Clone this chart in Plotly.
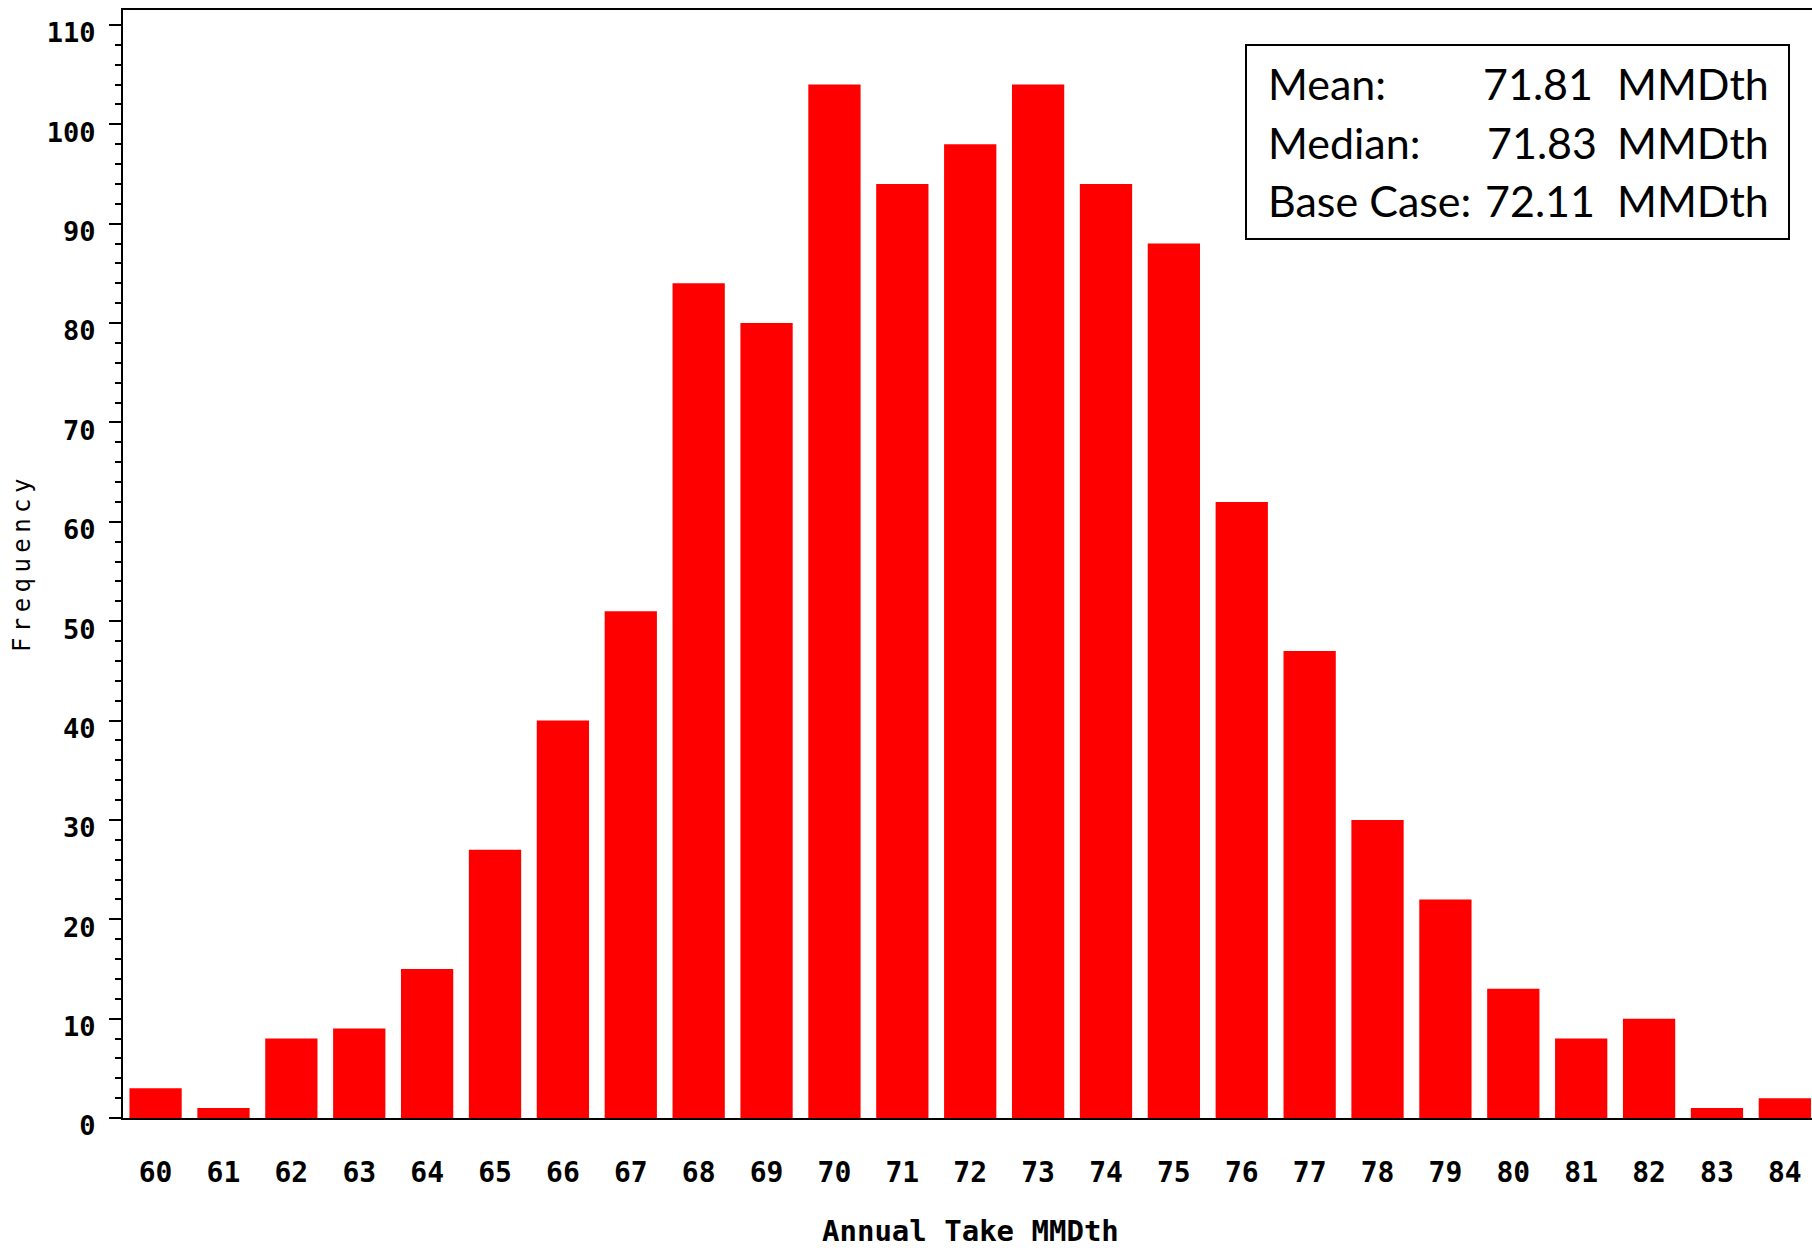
import plotly.graph_objects as go

categories = list(range(60, 85))
frequency = [3, 1, 8, 9, 15, 27, 40, 51, 84, 80, 104, 94, 98, 104, 94, 88, 62, 47, 30, 22, 13, 8, 10, 1, 2]
y_ticks = [0, 10, 20, 30, 40, 50, 60, 70, 80, 90, 100, 110]
stat_labels = ["Mean:", "Median:", "Base Case:"]
stat_values = ["71.81", "71.83", "72.11"]
stat_unit = "MMDth"
x_title = "Annual Take MMDth"
y_title = "Frequency"

W, H = 1812, 1248
L, R, T, B = 123, 0, 10, 130
pw, ph = W - L - R, H - T - B

def px(x):
    return (x - L) / pw

def py(y):
    return (H - B - y) / ph

fig = go.Figure()
fig.add_trace(go.Bar(
    x=categories, y=frequency,
    marker=dict(color="#FF0000", line=dict(width=0)),
    width=0.77,
))

mono = "DejaVu Sans Mono"
fig.update_layout(
    width=W, height=H,
    margin=dict(l=L, r=R, t=T, b=B, pad=0),
    paper_bgcolor="white", plot_bgcolor="white",
    showlegend=False,
    xaxis=dict(
        range=[59.52, 84.4],
        tickmode="array", tickvals=categories, ticktext=[str(c) for c in categories],
        showgrid=False, zeroline=False,
        showline=True, linecolor="black", linewidth=2, mirror=True,
        ticks="", ticklabelstandoff=28,
        tickfont=dict(family=mono, size=28, color="black", weight="bold"),
    ),
    yaxis=dict(
        range=[0, 111.5],
        tickmode="array", tickvals=y_ticks,
        showgrid=False, zeroline=False,
        showline=True, linecolor="black", linewidth=2,
        ticks="outside", ticklen=12, tickwidth=2, tickcolor="black",
        minor=dict(dtick=2, ticks="outside", ticklen=6, tickwidth=2, tickcolor="black"),
        ticklabelstandoff=8, ticklabelshift=8,
        tickfont=dict(family=mono, size=27, color="black", weight="bold"),
    ),
)

# axis titles
fig.add_annotation(text=x_title, xref="paper", yref="paper",
                   x=px(970), y=py(1231), xanchor="center", yanchor="middle",
                   showarrow=False, font=dict(family=mono, size=29, color="black", weight="bold"))
spaced = "<span style='font-size:9px'> </span>".join(list(y_title))
fig.add_annotation(text=spaced, xref="paper", yref="paper",
                   x=px(22), y=py(566), xanchor="center", yanchor="middle", textangle=-90,
                   showarrow=False, font=dict(family=mono, size=24, color="black"))

# stats box
fig.add_shape(type="rect", xref="paper", yref="paper",
              x0=px(1246), x1=px(1789), y0=py(239), y1=py(45),
              line=dict(color="black", width=2), fillcolor="white")
box_font = dict(family="Lato", size=43, color="black")
rows_y = [84, 142, 200]
val_x = [1481, 1485, 1483]
for lab, val, yy, vx in zip(stat_labels, stat_values, rows_y, val_x):
    fig.add_annotation(text=lab, xref="paper", yref="paper", x=px(1266), y=py(yy),
                       xanchor="left", yanchor="middle", showarrow=False, font=box_font)
    fig.add_annotation(text=val, xref="paper", yref="paper", x=px(vx), y=py(yy),
                       xanchor="left", yanchor="middle", showarrow=False, font=box_font)
    fig.add_annotation(text=stat_unit, xref="paper", yref="paper", x=px(1615), y=py(yy),
                       xanchor="left", yanchor="middle", showarrow=False, font=box_font)

fig.write_html("out.html", config={"displayModeBar": False},
               post_script="document.body.style.margin='0';document.body.style.overflow='hidden';")
